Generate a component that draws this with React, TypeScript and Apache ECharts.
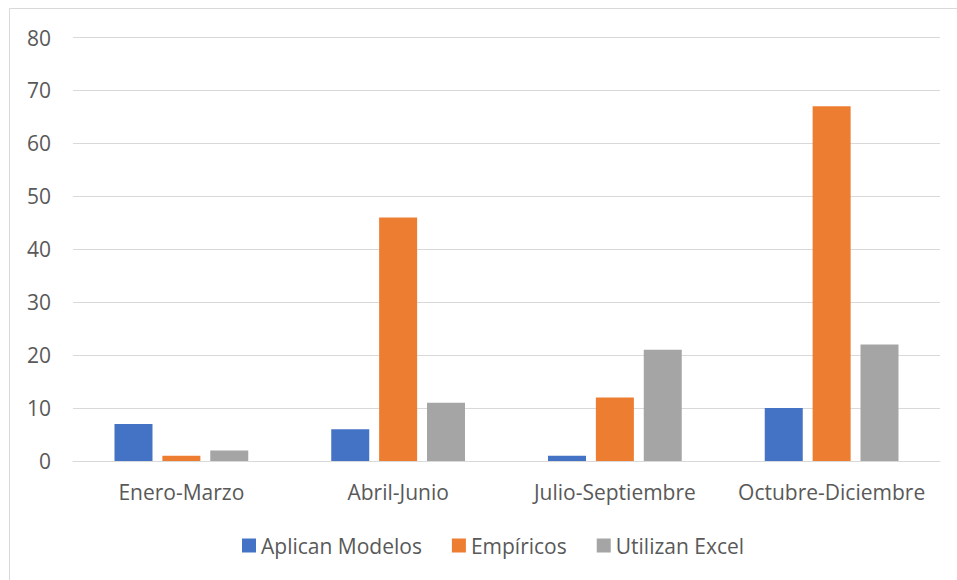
import React, { useEffect, useRef } from "react";
import * as echarts from "echarts";

const categories = ["Enero-Marzo", "Abril-Junio", "Julio-Septiembre", "Octubre-Diciembre"];
const seriesNames = ["Aplican Modelos", "Empíricos", "Utilizan Excel"];
const aplicanModelos = [7, 6, 1, 10];
const empiricos = [1, 46, 12, 67];
const utilizanExcel = [2, 11, 21, 22];
const colors = ["#4472C4", "#ED7D31", "#A5A5A5"];

const FONT = "'Open Sans', 'Noto Sans', sans-serif";
const TEXT_COLOR = "#595959";
const FONT_SIZE = 21;

export default function App() {
  const ref = useRef<HTMLDivElement>(null);

  useEffect(() => {
    if (!ref.current) return;
    const chart = echarts.init(ref.current, undefined, { renderer: "svg" });
    const values = [aplicanModelos, empiricos, utilizanExcel];
    chart.setOption({
      animation: false,
      backgroundColor: "#ffffff",
      textStyle: { fontFamily: FONT },
      graphic: [
        {
          type: "rect",
          shape: { x: 9.5, y: 8.5, width: 1200, height: 1200 },
          style: { fill: "none", stroke: "#d9d9d9", lineWidth: 1 },
          silent: true,
        },
      ],
      grid: { left: 73, right: 17, top: 37.5, bottom: 119 },
      legend: {
        left: 242,
        top: 535,
        padding: 0,
        itemWidth: 14,
        itemHeight: 14,
        itemGap: 30,
        icon: "rect",
        textStyle: { fontFamily: FONT, fontSize: FONT_SIZE, color: TEXT_COLOR },
        data: seriesNames,
      },
      xAxis: {
        type: "category",
        data: categories,
        axisLine: { lineStyle: { color: "#d9d9d9", width: 1 } },
        axisTick: { show: false },
        axisLabel: {
          interval: 0,
          fontFamily: FONT,
          fontSize: FONT_SIZE,
          color: TEXT_COLOR,
          margin: 20,
        },
      },
      yAxis: {
        type: "value",
        min: 0,
        max: 80,
        interval: 10,
        axisLine: { show: false },
        axisTick: { show: false },
        splitLine: { lineStyle: { color: "#d9d9d9", width: 1 } },
        axisLabel: { fontFamily: FONT, fontSize: FONT_SIZE, color: TEXT_COLOR, margin: 22 },
      },
      series: seriesNames.map((name, i) => ({
        name,
        type: "bar",
        data: values[i],
        barWidth: 38,
        barGap: "26%",
        itemStyle: { color: colors[i] },
      })),
    });
    return () => chart.dispose();
  }, []);

  return (
    <div
      ref={ref}
      style={{ position: "absolute", left: 0, top: 0, width: 957, height: 580 }}
    />
  );
}
